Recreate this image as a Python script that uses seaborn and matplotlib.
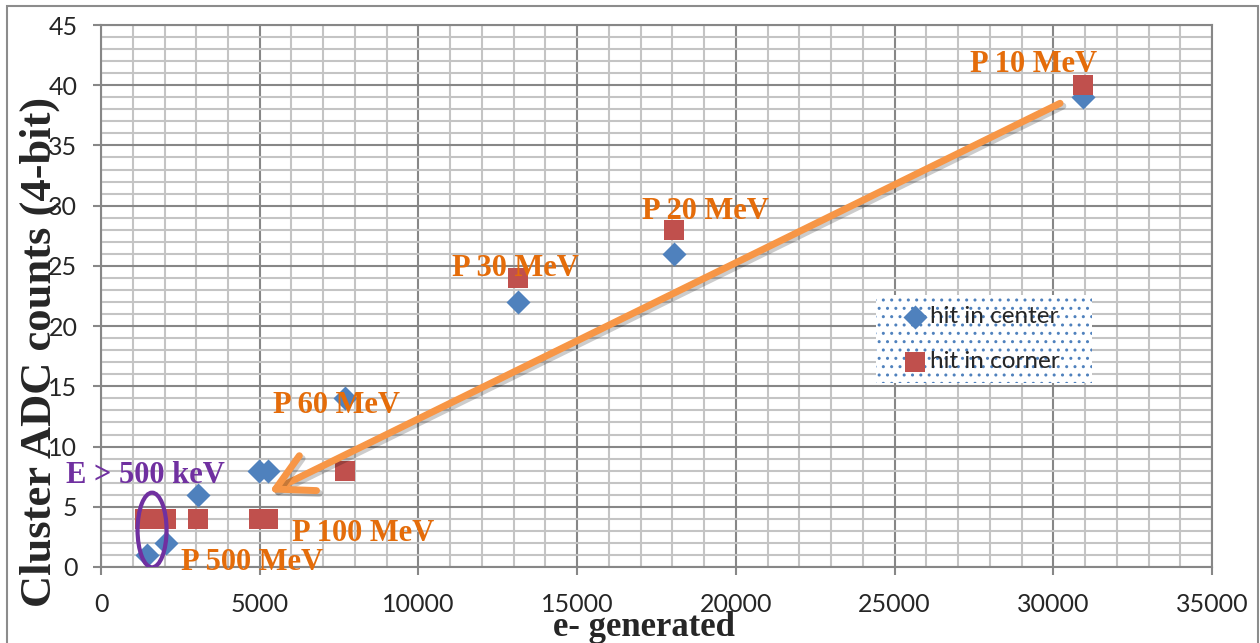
import pandas as pd
import seaborn as sns
import matplotlib.pyplot as plt
from matplotlib.patches import Ellipse, Rectangle
from matplotlib.ticker import MultipleLocator
import matplotlib.patheffects as pe

# data
center_x = [1450, 2050, 3050, 4990, 5270, 7690, 13140, 18050, 30940]
center_y = [1, 2, 6, 8, 8, 14, 22, 26, 39]
corner_x = [1400, 1700, 2050, 3050, 4990, 5270, 7690, 13140, 18050, 30940]
corner_y = [4, 4, 4, 4, 4, 4, 8, 24, 28, 40]

label_text = ['P 10 MeV', 'P 20 MeV', 'P 30 MeV', 'P 60 MeV', 'P 100 MeV', 'P 500 MeV']
label_x = [27380, 17045, 11060, 5420, 6018, 2520]
label_y = [41.7, 29.5, 24.8, 13.45, 2.8, 0.4]

df_center = pd.DataFrame({'x': center_x, 'y': center_y})
df_corner = pd.DataFrame({'x': corner_x, 'y': corner_y})

sns.set_style('white')
plt.rcParams['font.family'] = ['Lato', 'DejaVu Sans']

fig = plt.figure(figsize=(12.6, 6.43), dpi=100)
ax = fig.add_axes([0.0802, 0.1182, 0.8817, 0.8429])

# outer chart border
fig.patches.append(Rectangle((7 / 1260, -0.05), 1251 / 1260, 1.05 - 6 / 643,
                             transform=fig.transFigure, fill=False,
                             edgecolor='#8C8C8C', lw=1.5))

sns.scatterplot(data=df_center, x='x', y='y', marker='D', s=150, color='#4F81BD',
                linewidth=0, label='hit in center', ax=ax, zorder=3)
sns.scatterplot(data=df_corner, x='x', y='y', marker='s', s=210, color='#C0504D',
                linewidth=0, label='hit in corner', ax=ax, zorder=4)

ax.set_xlim(0, 35000)
ax.set_ylim(0, 45)
ax.xaxis.set_major_locator(MultipleLocator(5000))
ax.xaxis.set_minor_locator(MultipleLocator(1000))
ax.yaxis.set_major_locator(MultipleLocator(5))
ax.yaxis.set_minor_locator(MultipleLocator(1))
ax.grid(which='minor', color='#C4C4C4', lw=1.5, zorder=0)
ax.grid(which='major', color='#878787', lw=1.5, zorder=0)
ax.set_axisbelow(True)
for sp in ax.spines.values():
    sp.set_color('#878787')
    sp.set_linewidth(1.5)
ax.tick_params(which='major', length=6, width=1.5, color='#878787',
               labelsize=18, pad=11, left=True, bottom=True)
ax.tick_params(axis='x', pad=13)
ax.tick_params(which='minor', length=0)
ax.set_xlabel('')
ax.set_ylabel('')

fig.text(40 / 1260, 1 - 352 / 643, 'Cluster ADC counts (4-bit)', rotation=90,
         ha='center', va='center', family='Liberation Serif', weight='bold', size=32)
fig.text(644 / 1260, 1 - 628 / 643, 'e- generated', ha='center', va='center',
         family='Liberation Serif', weight='bold', size=25)

# energy labels
for t, x, y in zip(label_text, label_x, label_y):
    ax.text(x, y, t, ha='left', va='center', color='#E46C0A',
            family='Liberation Serif', weight='bold', size=22, zorder=5)
ax.text(-1100, 7.6, 'E > 500 keV', ha='left', va='center', color='#7030A0',
        family='Liberation Serif', weight='bold', size=22, zorder=5)

# arrow from high to low proton energy
ax.annotate('', xy=(5290, 6.2), xytext=(30214, 38.5),
            arrowprops=dict(arrowstyle='->,head_length=1.3,head_width=0.7',
                            mutation_scale=20, color='#F79646', lw=5,
                            shrinkA=0, shrinkB=0,
                            path_effects=[pe.SimpleLineShadow(offset=(2, -2), alpha=0.2),
                                          pe.Normal()]),
            zorder=6)

ax.add_patch(Ellipse((1607, 3.07), 914, 6.2, fill=False, edgecolor='#7030A0',
                     lw=3, zorder=6))

# dotted legend box
ax.add_patch(Rectangle((0.6976, 0.339), 0.1944, 0.163, transform=ax.transAxes,
                       facecolor='white', edgecolor='#4F81BD', lw=0, hatch='..',
                       zorder=7))
leg = ax.legend(loc='upper left', bbox_to_anchor=(0.7219, 0.481), borderaxespad=0,
                fontsize=17.5, frameon=False, handletextpad=0.1,
                handlelength=1.0, borderpad=0, labelspacing=0.98)
leg.set_zorder(8)

fig.savefig('out.png', dpi=100)
